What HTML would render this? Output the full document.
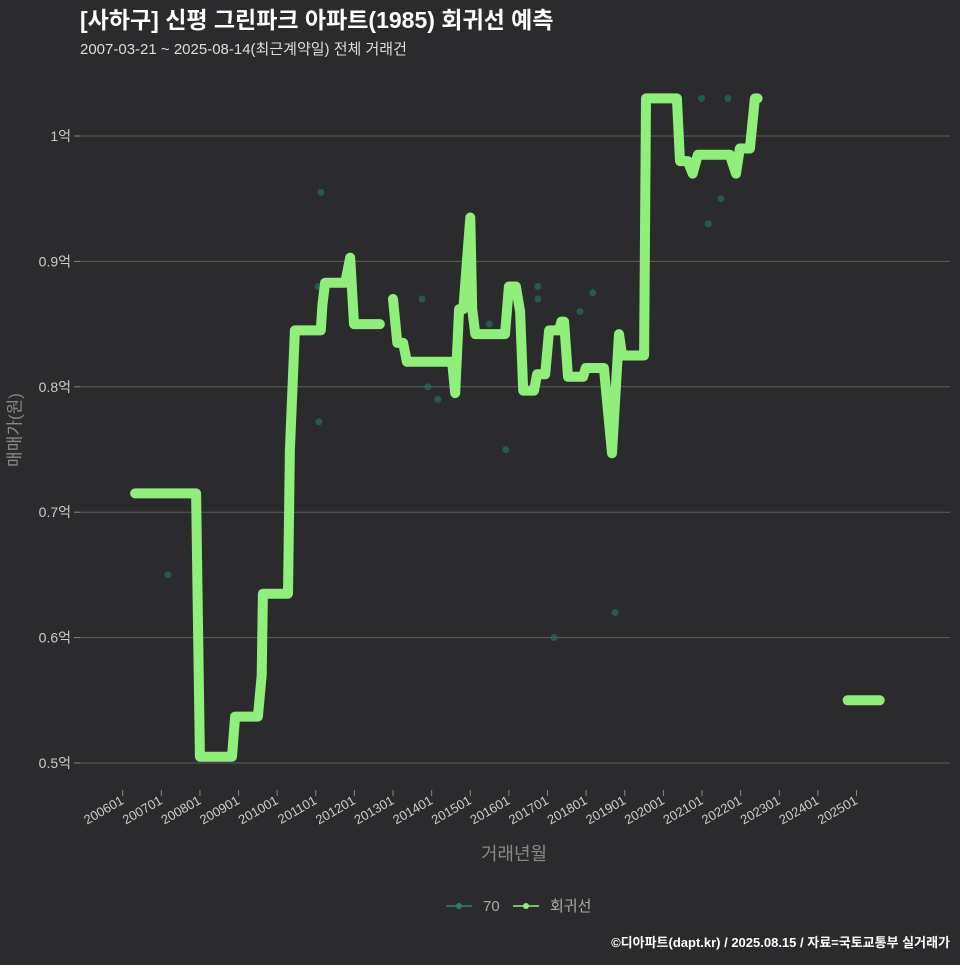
<!DOCTYPE html>
<html><head><meta charset="utf-8"><style>
html,body{margin:0;padding:0;background:#2b2b2d;}
svg text{font-family:"Liberation Sans","Noto Sans CJK KR",sans-serif;}
</style></head><body>
<svg id="chart" width="960" height="960" xmlns="http://www.w3.org/2000/svg">
<rect width="960" height="960" fill="#2b2b2d"/>
<text x="80" y="28" fill="#ffffff" font-size="23" font-weight="bold">[사하구] 신평 그린파크 아파트(1985) 회귀선 예측</text>
<text x="80" y="54" fill="#dddddd" font-size="15">2007-03-21 ~ 2025-08-14(최근계약일) 전체 거래건</text>
<g id="grid"></g>
<g id="xaxis"></g>
<g id="points"></g>
<g id="lines"></g>
<text x="15" y="430" fill="#888888" font-size="17" transform="rotate(-90 15 430)" text-anchor="middle" dominant-baseline="central">매매가(원)</text>
<text x="514" y="860" fill="#888888" font-size="18" text-anchor="middle">거래년월</text>
<g>
<g>
<line x1="446" y1="906" x2="472" y2="906" stroke="#2a7f74" stroke-width="1.5"/><circle cx="459" cy="906" r="3" fill="#2a7f74"/>
<text x="483" y="911" fill="#aaaaaa" font-size="15">70</text></g>
<g>
<line x1="513" y1="906" x2="539" y2="906" stroke="#90ee7a" stroke-width="1.5"/><circle cx="526" cy="906" r="3" fill="#90ee7a"/>
<text x="550" y="911" fill="#aaaaaa" font-size="15">회귀선</text></g>
</g>
<text x="950" y="947" fill="#ffffff" font-size="13" font-weight="bold" text-anchor="end">©디아파트(dapt.kr) / 2025.08.15 / 자료=국토교통부 실거래가</text>
</svg>
<script>
const yTicks=[0.5,0.6,0.7,0.8,0.9,1.0];
const yTickLabels=["0.5억","0.6억","0.7억","0.8억","0.9억","1억"];
const xTickYears=[2006,2007,2008,2009,2010,2011,2012,2013,2014,2015,2016,2017,2018,2019,2020,2021,2022,2023,2024,2025];
const xTickLabels=["200601","200701","200801","200901","201001","201101","201201","201301","201401","201501","201601","201701","201801","201901","202001","202101","202201","202301","202401","202501"];
const seg1Dates=[2006.32,2007.90,2008.0,2008.83,2008.91,2009.50,2009.60,2009.63,2010.28,2010.33,2010.46,2011.13,2011.17,2011.24,2011.76,2011.89,2011.99,2012.66];
const seg1Values=[0.715,0.715,0.505,0.505,0.537,0.537,0.57,0.635,0.635,0.75,0.845,0.845,0.865,0.883,0.883,0.903,0.85,0.85];
const seg2Dates=[2013.00,2013.11,2013.26,2013.36,2014.53,2014.61,2014.71,2014.82,2015.00,2015.05,2015.13,2015.90,2016.00,2016.18,2016.29,2016.37,2016.65,2016.73,2016.94,2017.04,2017.30,2017.36,2017.43,2017.53,2017.92,2017.99,2018.46,2018.67,2018.85,2018.93,2019.50,2019.55,2020.35,2020.43,2020.63,2020.76,2020.89,2021.72,2021.88,2021.98,2022.24,2022.37,2022.44];
const seg2Values=[0.87,0.835,0.835,0.82,0.82,0.795,0.862,0.862,0.935,0.862,0.842,0.842,0.88,0.88,0.86,0.797,0.797,0.81,0.81,0.845,0.845,0.852,0.852,0.808,0.808,0.815,0.815,0.747,0.842,0.825,0.825,1.03,1.03,0.98,0.98,0.97,0.985,0.985,0.97,0.99,0.99,1.03,1.03];
const seg3Dates=[2024.77,2025.60];
const seg3Values=[0.55,0.55];
const ptDates=[2007.17,2011.13,2011.06,2011.08,2013.75,2013.90,2014.16,2015.49,2015.92,2016.75,2016.75,2017.17,2017.84,2018.17,2018.75,2020.99,2021.16,2021.49,2021.67];
const ptValues=[0.65,0.955,0.88,0.772,0.87,0.80,0.79,0.85,0.75,0.88,0.87,0.60,0.86,0.875,0.62,1.03,0.93,0.95,1.03];

const NS="http://www.w3.org/2000/svg";
function xS(t){return 122.7+(t-2006)*38.62;}
function yS(v){return 763-(v-0.5)*1254;}
function mk(tag,attrs,parent){const e=document.createElementNS(NS,tag);for(const k in attrs)e.setAttribute(k,attrs[k]);parent.appendChild(e);return e;}
const grid=document.getElementById('grid');
yTicks.forEach((v,i)=>{
  const l=mk('line',{x1:80,x2:950,y1:yS(v),y2:yS(v),stroke:'#5c5c5c','stroke-width':1},grid);
  
  
  const tk=mk('line',{x1:74,x2:80,y1:yS(v),y2:yS(v),stroke:'#888','stroke-width':1},grid);
  
  
  const t=mk('text',{x:71,y:yS(v)+5,fill:'#cccccc','font-size':14,'text-anchor':'end'},grid);
  t.textContent=yTickLabels[i];
  
  
});
const xa=document.getElementById('xaxis');
xTickYears.forEach((yr,i)=>{
  const x=xS(yr);
  const tk=mk('line',{x1:x,x2:x,y1:790,y2:796,stroke:'#888','stroke-width':1},xa);
  
  
  const t=mk('text',{x:x+2,y:803,fill:'#cccccc','font-size':13,'text-anchor':'end',transform:`rotate(-30 ${x+2} 803)`},xa);
  t.textContent=xTickLabels[i];
  
  
});
const pg=document.getElementById('points');
ptDates.forEach((d,i)=>{
  const c=mk('circle',{cx:xS(d),cy:yS(ptValues[i]),r:3.5,fill:'#2a6b63','fill-opacity':0.7},pg);
  
  
});
const lg=document.getElementById('lines');
[[seg1Dates,seg1Values],[seg2Dates,seg2Values],[seg3Dates,seg3Values]].forEach(([ds,vs],si)=>{
  const pts=ds.map((d,i)=>xS(d).toFixed(1)+','+yS(vs[i]).toFixed(1)).join(' ');
  const p=mk('polyline',{points:pts,fill:'none',stroke:'#90ee7a','stroke-width':10,'stroke-linejoin':'round','stroke-linecap':'round'},lg);
  
  
});
</script>
</body></html>
